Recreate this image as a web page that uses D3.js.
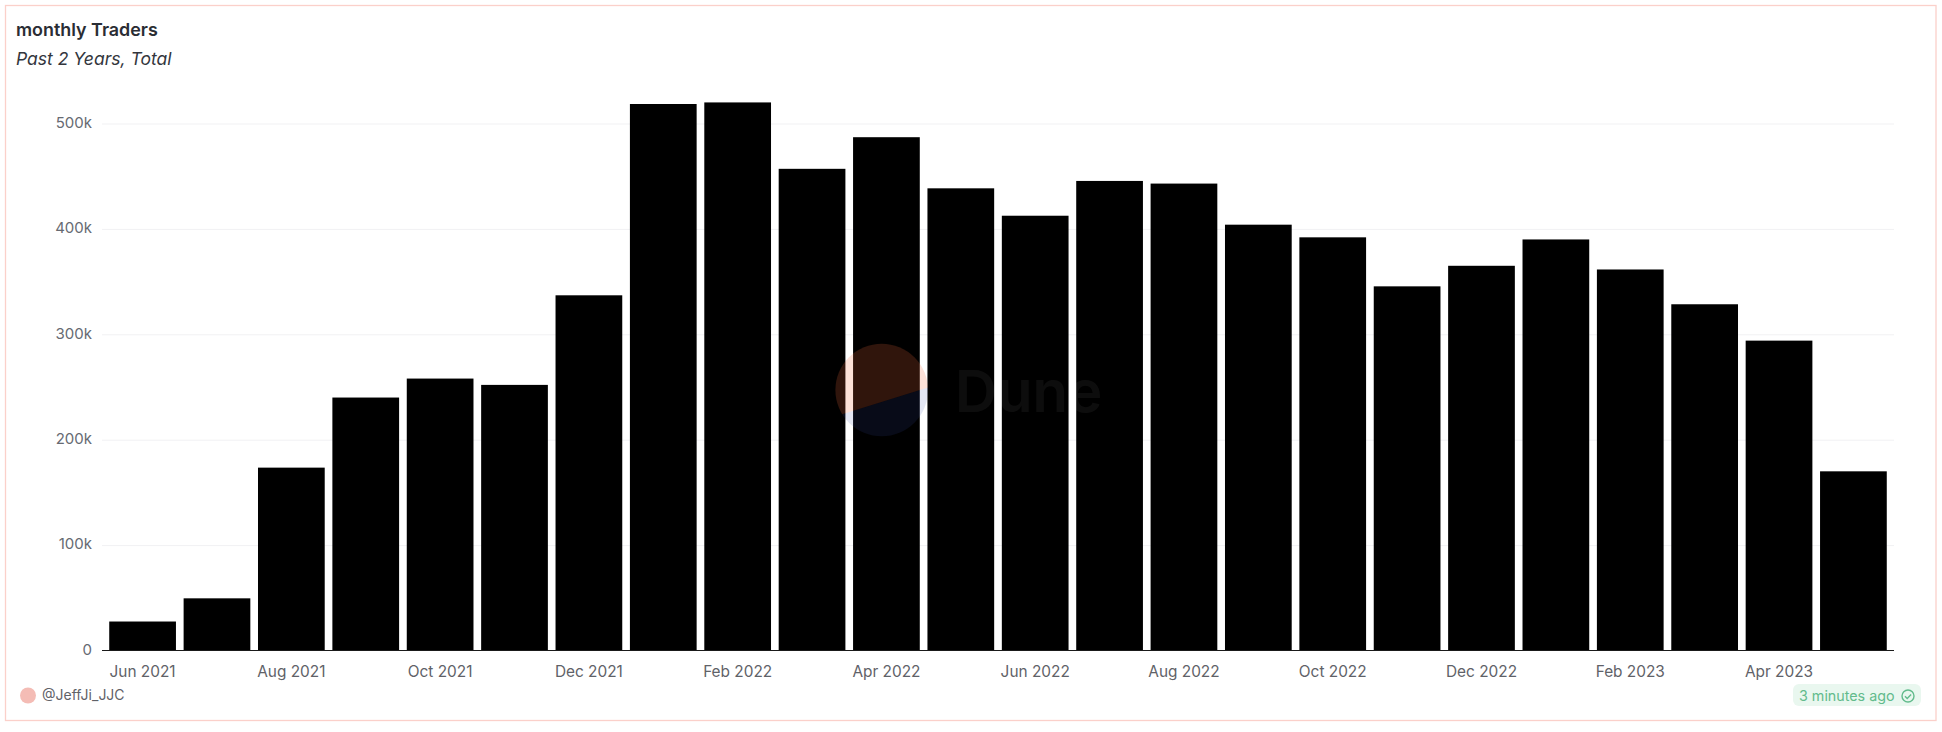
<!DOCTYPE html>
<html><head><meta charset="utf-8">
<script src="https://cdn.jsdelivr.net/npm/d3@7"></script>
<style>
html,body{margin:0;padding:0;background:#fff}
svg{display:block}
text{font-family:"Inter","Noto Sans",sans-serif}
</style></head><body>
<svg id="c" width="1942" height="732"></svg>
<script>
const categories=["Jun 2021","Jul 2021","Aug 2021","Sep 2021","Oct 2021","Nov 2021","Dec 2021","Jan 2022","Feb 2022","Mar 2022","Apr 2022","May 2022","Jun 2022","Jul 2022","Aug 2022","Sep 2022","Oct 2022","Nov 2022","Dec 2022","Jan 2023","Feb 2023","Mar 2023","Apr 2023","May 2023"];
const traders=[27500,49500,173500,240000,258000,252000,337000,518500,520000,457000,487000,438500,412500,445500,443000,404000,392000,345500,365000,390000,361500,328500,294000,170000];
const xTickLabels=["Jun 2021","Aug 2021","Oct 2021","Dec 2021","Feb 2022","Apr 2022","Jun 2022","Aug 2022","Oct 2022","Dec 2022","Feb 2023","Apr 2023"];
const yTicks=[0,100000,200000,300000,400000,500000];
const title="monthly Traders", subtitle="Past 2 Years, Total", author="@JeffJi_JJC", age="3 minutes ago";

const svg=d3.select("#c");
const x=d3.scaleBand().domain(categories).range([105.4,1890.6]).paddingInner(0.103).paddingOuter(0.0515);
const y=d3.scaleLinear().domain([0,500000]).range([650.5,123.5]);
const axisL=102, axisR=1894;

svg.append("rect").attr("x",5.5).attr("y",5.5).attr("width",1930.5).attr("height",715)
  .attr("fill","#fff").attr("stroke","#fbd0ca").attr("stroke-width",1.3);

svg.append("text").attr("x",16).attr("y",36).attr("font-size",17.9).attr("font-weight",600).attr("fill","#2a2d34").text(title);
svg.append("text").attr("x",16).attr("y",65).attr("font-size",17.5).attr("font-style","italic").attr("fill","#33363d").text(subtitle);

const gy=svg.append("g").attr("transform",`translate(${axisL},-1)`)
  .call(d3.axisLeft(y).tickValues(yTicks).tickSize(0).tickPadding(10).tickFormat(d=>d===0?"0":d/1000+"k"));
gy.select(".domain").remove();
gy.selectAll("text").attr("font-size",15).attr("fill","#666a72").style("font-family",'"Inter","Noto Sans",sans-serif');
svg.append("g").selectAll("line").data(yTicks.filter(d=>d>0)).join("line")
  .attr("x1",axisL).attr("x2",axisR).attr("y1",d=>y(d)+.5).attr("y2",d=>y(d)+.5).attr("stroke","#f1f1f3").attr("stroke-width",1);

svg.append("g").selectAll("rect").data(traders).join("rect")
  .attr("x",(d,i)=>x(categories[i])).attr("width",x.bandwidth())
  .attr("y",d=>y(d)).attr("height",d=>y(0)-y(d)).attr("fill","#000");

const gx=svg.append("g").attr("transform",`translate(0,${y(0)})`)
  .call(d3.axisBottom(x).tickValues(xTickLabels).tickSize(0).tickPadding(10));
gx.select(".domain").remove();
gx.selectAll("text").attr("font-size",15.4).attr("fill","#5f6268").attr("dy","1.05em").style("font-family",'"Inter","Noto Sans",sans-serif');
svg.append("line").attr("x1",axisL).attr("x2",axisR).attr("y1",y(0)).attr("y2",y(0)).attr("stroke","#1a1a1a").attr("stroke-width",1.2);

// watermark
const wm=svg.append("g").attr("pointer-events","none");
const cx=881.7, cy=390, r=46.3;
const clip=svg.append("defs").append("clipPath").attr("id","wc");
clip.append("circle").attr("cx",cx).attr("cy",cy).attr("r",r);
wm.append("g").attr("clip-path","url(#wc)").call(g=>{
  g.append("path").attr("d",`M${cx-r-2} ${cy+27} L${cx+r+2} ${cy-3} L${cx+r+2} ${cy+r+2} L${cx-r-2} ${cy+r+2} Z`).attr("fill","#3a4fa8").attr("opacity",.14);
  g.append("path").attr("d",`M${cx-r-2} ${cy+27} L${cx+r+2} ${cy-3} L${cx+r+2} ${cy-r-2} L${cx-r-2} ${cy-r-2} Z`).attr("fill","#f26a3d").attr("opacity",.2);
});
wm.append("text").attr("x",955).attr("y",412).attr("font-size",58).attr("font-weight",600).attr("fill","#ffffff").attr("opacity",.05).text("Dune");

// footer
svg.append("circle").attr("cx",28).attr("cy",695.5).attr("r",8).attr("fill","#f4bcb5");
svg.append("text").attr("x",42).attr("y",700).attr("font-size",14).attr("fill","#5f6268").text(author);
svg.append("rect").attr("x",1793).attr("y",684).attr("width",128).attr("height",22).attr("rx",6).attr("fill","#e9f7ef");
svg.append("text").attr("x",1799).attr("y",700.5).attr("font-size",14.3).attr("fill","#62bb8c").text(age);
svg.append("circle").attr("cx",1908).attr("cy",696).attr("r",6).attr("fill","none").attr("stroke","#62bb8c").attr("stroke-width",1.4);
svg.append("path").attr("d","M1905 696.2l2.2 2.2l3.9-4").attr("fill","none").attr("stroke","#62bb8c").attr("stroke-width",1.4);
</script></body></html>
